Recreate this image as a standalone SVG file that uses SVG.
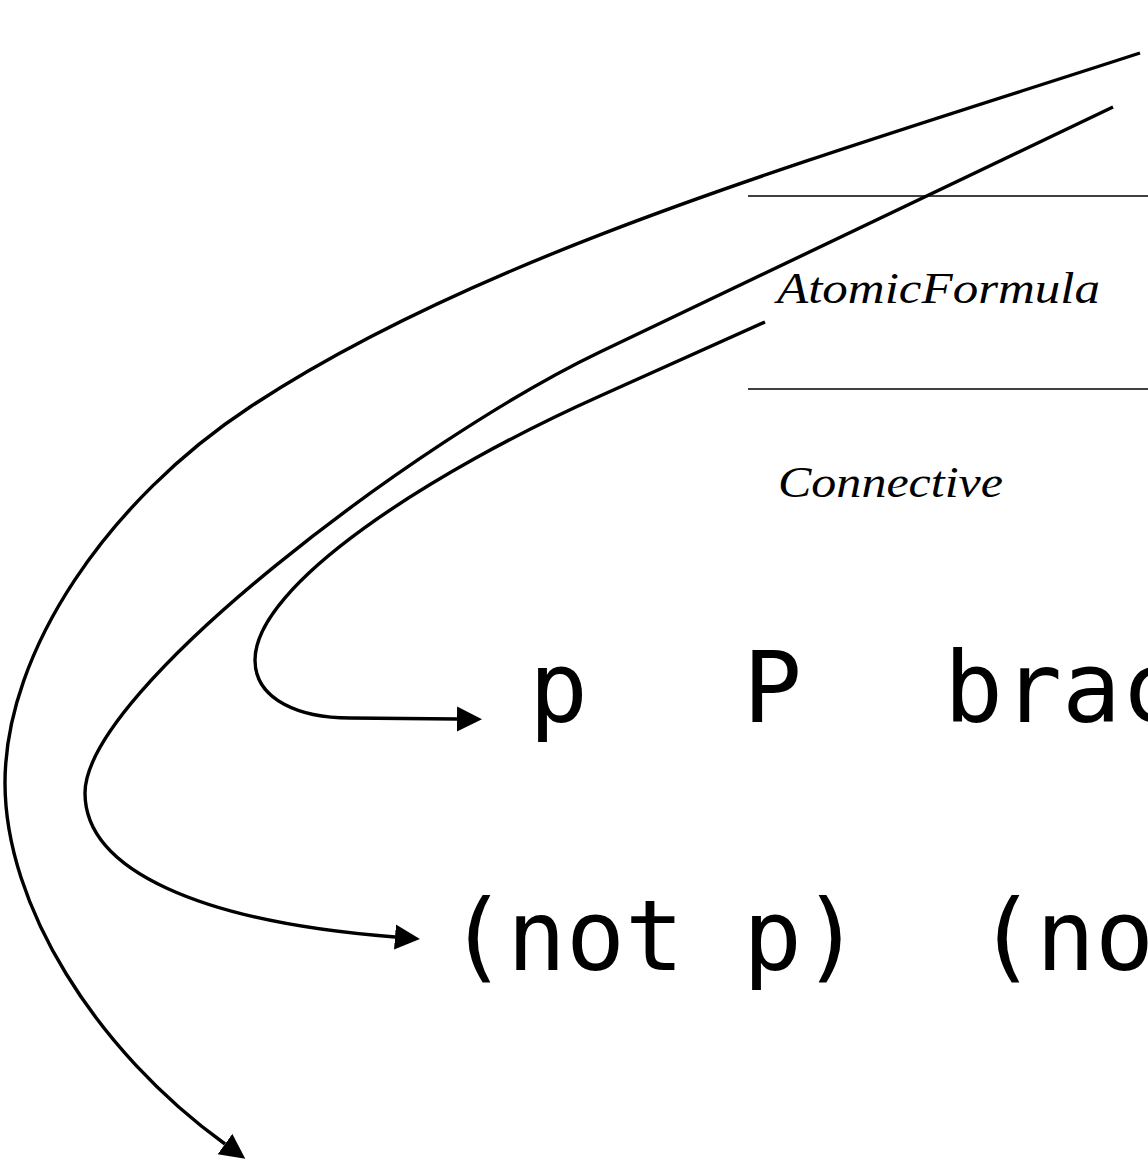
<svg xmlns="http://www.w3.org/2000/svg" width="1148" height="1169" viewBox="0 0 1148 1169">
<defs>
<style>
.edge{fill:none;stroke:#000;stroke-width:3.4}
.rule{stroke:#000;stroke-width:1.3}
.lbl{font-family:"Liberation Serif",serif;font-style:italic;font-size:45px;fill:#000}
.code{font-family:"DejaVu Sans Mono",monospace;font-size:98px;fill:#000}
</style>
<marker id="ah" markerUnits="userSpaceOnUse" markerWidth="26" markerHeight="26" refX="0" refY="12.5" orient="auto" viewBox="0 0 26 25">
<path d="M0,0 L25,12.5 L0,25 z" fill="#000"/>
</marker>
</defs>
<rect width="1148" height="1169" fill="#fff"/>
<g id="rules">
<line class="rule" x1="748" y1="196" x2="1148" y2="196"/>
<line class="rule" x1="748" y1="389" x2="1148" y2="389"/>
</g>
<g id="label-atomic"><text class="lbl" x="777" y="303" textLength="323" lengthAdjust="spacingAndGlyphs">AtomicFormula</text></g>
<g id="label-connective"><text class="lbl" x="778" y="497" textLength="225" lengthAdjust="spacingAndGlyphs">Connective</text></g>
<g id="row1">
<text class="code" x="529" y="722">p</text>
<text class="code" x="743" y="722">P</text>
<text class="code" x="944" y="722">brac</text>
</g>
<g id="row2">
<text class="code" x="448" y="970">(not p)</text>
<text class="code" x="977" y="970">(no</text>
</g>
<g id="connectors">
<path class="edge" marker-end="url(#ah)" d="M1140,53 C810,160 480,255 250,407 C110,499 5,650 5,783 C5,905 95,1050 225,1144"/>
<path class="edge" marker-end="url(#ah)" d="M1113,107 L600,352 C420,438 85,690 85,793 C85,870 200,922 395,937"/>
<path class="edge" marker-end="url(#ah)" d="M765,322 L600,396 C430,472 255,585 255,660 C255,700 300,718 350,718 L457,719"/>
</g>
</svg>
